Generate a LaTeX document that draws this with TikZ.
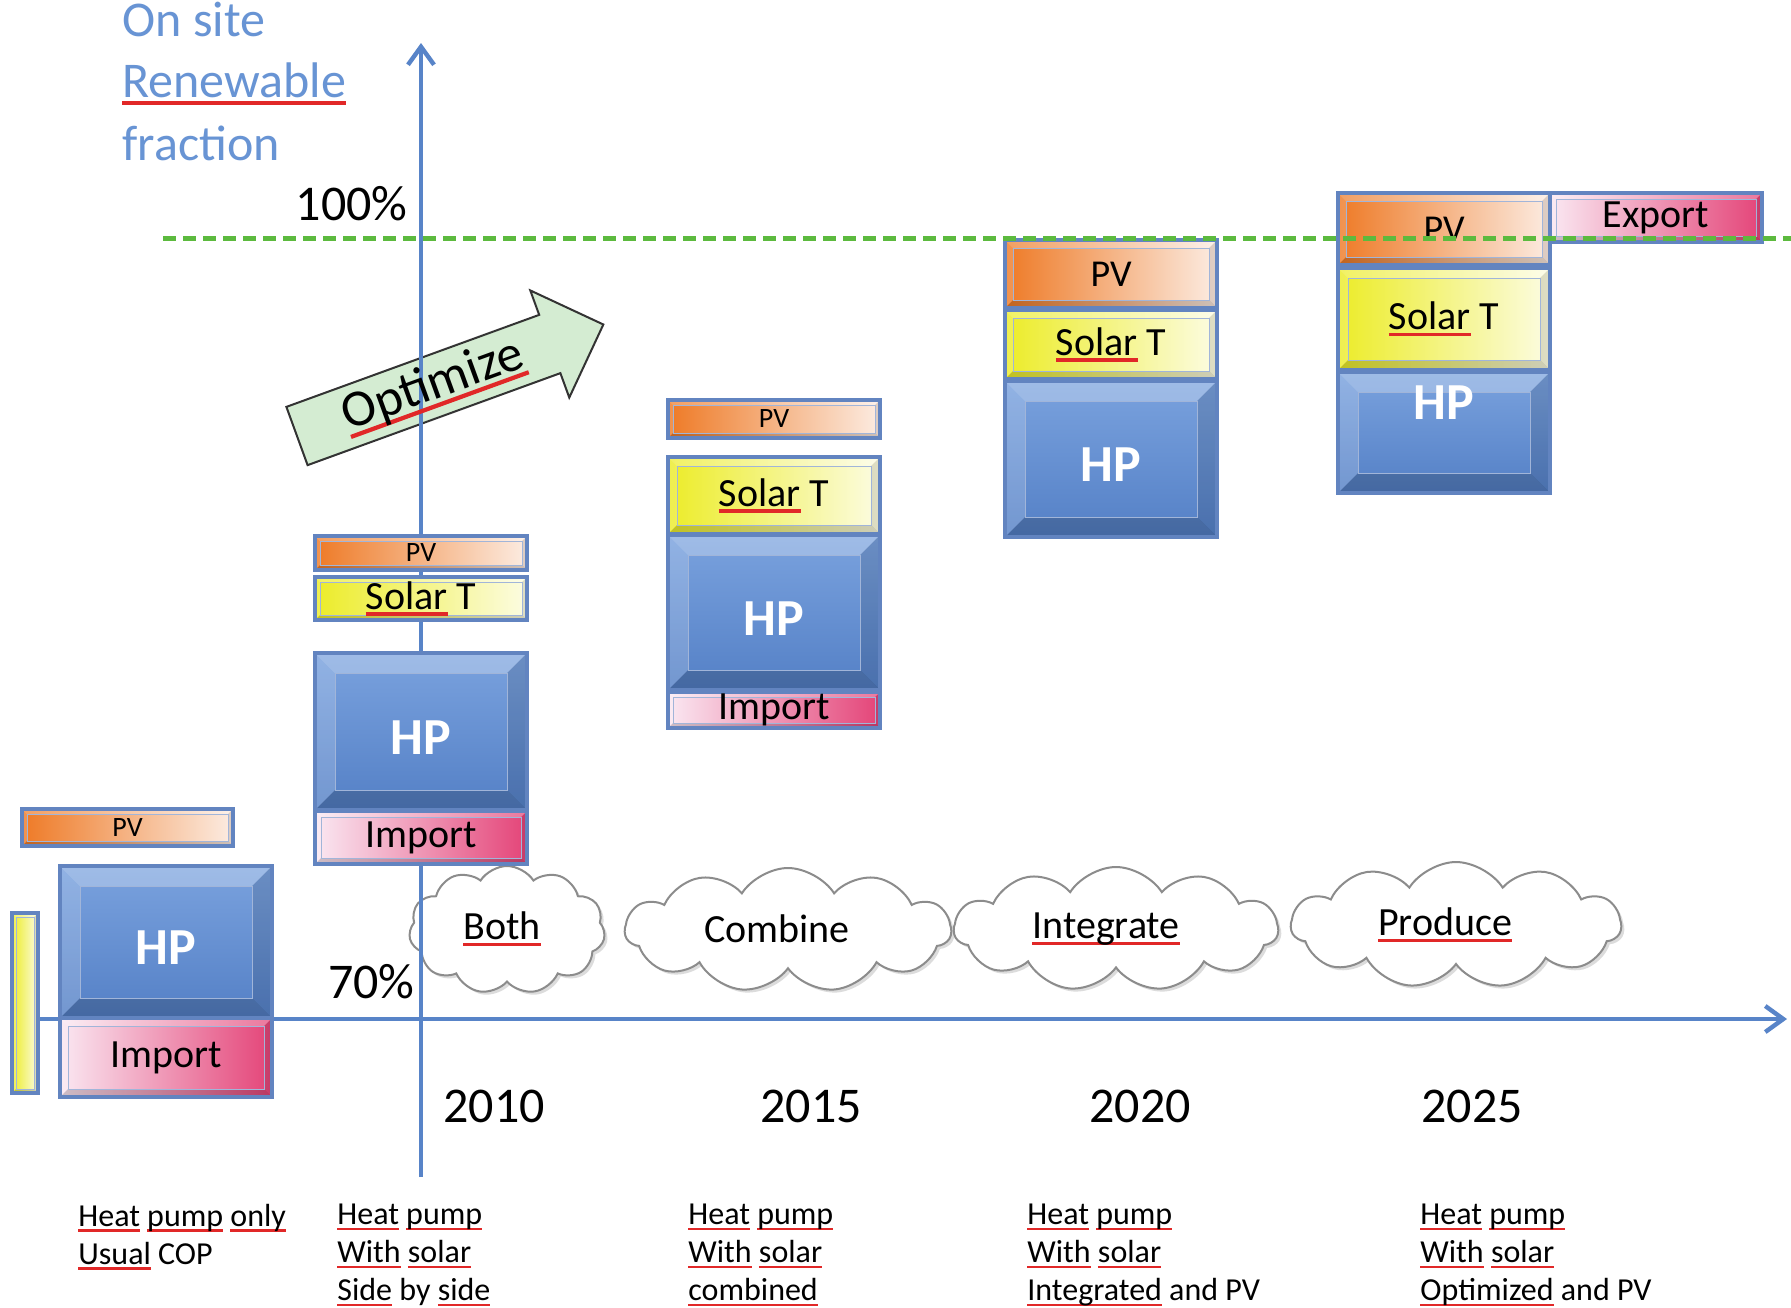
\documentclass[tikz,border=0pt]{standalone}
\usepackage{fontspec}
\setmainfont{Carlito}
\usetikzlibrary{shapes.symbols,arrows.meta,shadows}
\definecolor{pvL}{RGB}{238,122,38}
\definecolor{pvR}{RGB}{252,236,226}
\definecolor{solL}{RGB}{236,236,40}
\definecolor{solR}{RGB}{252,252,226}
\definecolor{impL}{RGB}{250,232,242}
\definecolor{impR}{RGB}{228,68,120}
\definecolor{hpT}{RGB}{122,162,222}
\definecolor{hpB}{RGB}{84,128,198}
\definecolor{bordc}{RGB}{98,132,192}
\definecolor{axisc}{RGB}{88,132,200}
\definecolor{ttlc}{RGB}{104,148,212}
\definecolor{dashc}{RGB}{92,186,62}
\definecolor{arrf}{RGB}{212,236,210}
\definecolor{sqred}{RGB}{225,40,40}
\newcommand\ru[1]{\setbox0=\hbox{#1}\rlap{\textcolor{sqred}{\rule[-0.34ex]{\wd0}{0.17ex}}}\box0\relax}
\newcommand\fHP{\fontsize{26}{30}\selectfont\bfseries}
\newcommand\fImp{\fontsize{20}{24}\selectfont}
\newcommand\fPVs{\fontsize{14}{17}\selectfont}
\newcommand\fPVb{\fontsize{19}{23}\selectfont}
\newcommand\fSol{\fontsize{20}{24}\selectfont}
\newcommand\fYear{\fontsize{25}{30}\selectfont}
\newcommand\fBot{\fontsize{16}{19}\selectfont}
\newcommand\fCld{\fontsize{20}{24}\selectfont}
\newcommand\fTtl{\fontsize{25}{30}\selectfont}
% #1 name, #2 x1, #3 y1, #4 x2, #5 y2, #6 inset, #7 fill, #8 node options, #9 text
\newcommand\bev[9]{%
  \path[#7] (#2,#3) rectangle (#4,#5);
  \fill[white,opacity=.28] (#2,#3) -- (#4,#3) -- ({#4-#6},{#3+#6}) -- ({#2+#6},{#3+#6}) -- cycle;
  \fill[white,opacity=.18] (#2,#3) -- ({#2+#6},{#3+#6}) -- ({#2+#6},{#5-#6}) -- (#2,#5) -- cycle;
  \fill[black,opacity=.18] (#2,#5) -- ({#2+#6},{#5-#6}) -- ({#4-#6},{#5-#6}) -- (#4,#5) -- cycle;
  \fill[black,opacity=.12] (#4,#3) -- (#4,#5) -- ({#4-#6},{#5-#6}) -- ({#4-#6},{#3+#6}) -- cycle;
  \draw[bordc,line width=1.6pt] (#2,#3) rectangle (#4,#5);
  \draw[bordc!60,line width=.5pt] ({#2+#6},{#3+#6}) rectangle ({#4-#6},{#5-#6});
  \node[inner sep=0pt,#8] (#1) at ({(#2+#4)/2},{(#3+#5)/2}) {#9};
}
\tikzset{
  cloudst/.style={cloud, draw=black!45, line width=1pt, fill=white, cloud puffs=11,
    cloud puff arc=115, aspect=2.6, inner sep=0pt,
    drop shadow={fill=black!30, opacity=.45, shadow xshift=1.5pt, shadow yshift=-1.5pt}},
  cloudtxt/.style={inner sep=0pt, font=\fCld},
  axisline/.style={axisc, line width=2.2pt},
  bottxt/.style={anchor=north west, align=left, inner sep=0pt, font=\fBot},
  yeartxt/.style={anchor=base, inner sep=0pt, font=\fYear},
  ttltxt/.style={anchor=base west, inner sep=0pt, font=\fTtl, text=ttlc},
  pvfill/.style={left color=pvL, right color=pvR},
  solfill/.style={left color=solL, right color=solR},
  impfill/.style={left color=impL, right color=impR},
  hpfill/.style={top color=hpT, bottom color=hpB},
}
\begin{document}
\begin{tikzpicture}[x=0.5pt,y=-0.5pt]
\useasboundingbox[fill=white] (0,0) rectangle (1791,1307);

% clouds
\node[cloudst, minimum width=98pt, minimum height=64pt] (cboth) at (507,930) {};
\node[cloudst, minimum width=163pt, minimum height=62pt] (ccomb) at (788,930) {};
\node[cloudst, minimum width=162pt, minimum height=62pt] (cinte) at (1116,929) {};
\node[cloudst, minimum width=165pt, minimum height=63pt] (cprod) at (1456,925) {};
\node[cloudtxt] (lboth) at (502,929) {\ru{Both}};
\node[cloudtxt] (lcomb) at (777,929) {Combine};
\node[cloudtxt] (linte) at (1106,929) {\ru{Integrate}};
\node[cloudtxt] (lprod) at (1445,925) {\ru{Produce}};

% optimize arrow body
\begin{scope}[shift={(297,436)}, rotate=20]
  \draw[fill=arrf, draw=black!80, line width=1pt, line join=miter]
    (0,-31) -- (269,-31) -- (269,-57) -- (326,0) -- (269,57) -- (269,31) -- (0,31) -- cycle;
  \coordinate (optc) at (145,13);
\end{scope}

% axes
\coordinate (yo) at (421,1177);
\coordinate (yt) at (421,43);
\coordinate (xo) at (12,1019);
\coordinate (xt) at (1787,1019);
\draw[axisline, -{Straight Barb[length=9pt,width=13pt,line width=2.2pt]}] (yo) -- (yt);
\draw[axisline, -{Straight Barb[length=9pt,width=13pt,line width=2.2pt]}] (xo) -- (xt);

\node[anchor=base, inner sep=0pt, rotate=20, font=\fontsize{26}{30}\selectfont] (opt) at (optc) {\ru{Optimize}};

% group 0
\bev{pv0}{22}{809}{233}{846}{5}{pvfill}{font=\fPVs}{PV}
\bev{hp0}{60}{866}{272}{1018}{20}{hpfill}{font=\fHP,text=white,yshift=-3pt}{HP}
\bev{imp0}{60}{1018}{272}{1097}{8}{impfill}{font=\fImp}{Import}
\bev{sol0}{12}{913}{38}{1093}{4}{solfill}{}{}

% group 1 (2010)
\bev{pv1}{315}{536}{527}{570}{5}{pvfill}{font=\fPVs}{PV}
\bev{sol1}{315}{577}{527}{620}{5}{solfill}{font=\fSol}{\ru{Solar} T}
\bev{hp1}{315}{653}{527}{810}{20}{hpfill}{font=\fHP,text=white,yshift=-3pt}{HP}
\bev{imp1}{315}{811}{527}{864}{6}{impfill}{font=\fImp}{Import}

% group 2 (2015)
\bev{pv2}{668}{400}{880}{438}{5}{pvfill}{font=\fPVs}{PV}
\bev{sol2}{668}{457}{880}{534}{9}{solfill}{font=\fSol}{\ru{Solar} T}
\bev{hp2}{668}{535}{880}{690}{20}{hpfill}{font=\fHP,text=white,yshift=-3pt}{HP}
\bev{imp2}{668}{692}{880}{728}{5}{impfill}{font=\fImp}{Import}

% group 3 (2020)
\bev{pv3}{1005}{240}{1217}{308}{8}{pvfill}{font=\fPVb}{PV}
\bev{sol3}{1005}{310}{1217}{379}{8}{solfill}{font=\fSol}{\ru{Solar} T}
\bev{hp3}{1005}{381}{1217}{537}{20}{hpfill}{font=\fHP,text=white,yshift=-3pt}{HP}

% group 4 (2025)
\bev{pv4}{1338}{193}{1550}{265}{8}{pvfill}{font=\fPVb}{PV}
\bev{sol4}{1338}{268}{1550}{370}{10}{solfill}{font=\fSol}{\ru{Solar} T}
\bev{hp4}{1338}{372}{1550}{493}{20}{hpfill}{font=\fHP,text=white,yshift=15pt}{HP}
\bev{exp4}{1550}{193}{1762}{242}{6}{impfill}{font=\fImp}{Export}

% 100% line
\coordinate (dl) at (163,238);
\coordinate (dr) at (1791,238);
\draw[dashc, line width=2.5pt, dash pattern=on 6.5pt off 3.5pt] (dl) -- (dr);

% axis labels
\node[ttltxt] (t1) at (122,36) {On site};
\node[ttltxt] (t2) at (122,97) {\ru{Renewable}};
\node[ttltxt] (t3) at (122,160) {fraction};
\node[anchor=base east, inner sep=0pt, font=\fYear] (p100) at (408,220) {100\%};
\node[anchor=base east, inner sep=0pt, font=\fYear] (p70) at (415,998) {70\%};

% years
\node[yeartxt] (y2010) at (494,1122) {2010};
\node[yeartxt] (y2015) at (811,1122) {2015};
\node[yeartxt] (y2020) at (1140,1122) {2020};
\node[yeartxt] (y2025) at (1472,1122) {2025};

% bottom descriptions
\node[bottxt] (d0) at (78,1204) {\ru{Heat} \ru{pump} \ru{only}\\\ru{Usual} COP};
\node[bottxt] (d1) at (337,1204) {\ru{Heat} \ru{pump}\\\ru{With} \ru{solar}\\\ru{Side} by \ru{side}};
\node[bottxt] (d2) at (688,1204) {\ru{Heat} \ru{pump}\\\ru{With} \ru{solar}\\\ru{combined}};
\node[bottxt] (d3) at (1027,1204) {\ru{Heat} \ru{pump}\\\ru{With} \ru{solar}\\\ru{Integrated} and PV};
\node[bottxt] (d4) at (1420,1204) {\ru{Heat} \ru{pump}\\\ru{With} \ru{solar}\\\ru{Optimized} and PV};
\end{tikzpicture}
\end{document}
